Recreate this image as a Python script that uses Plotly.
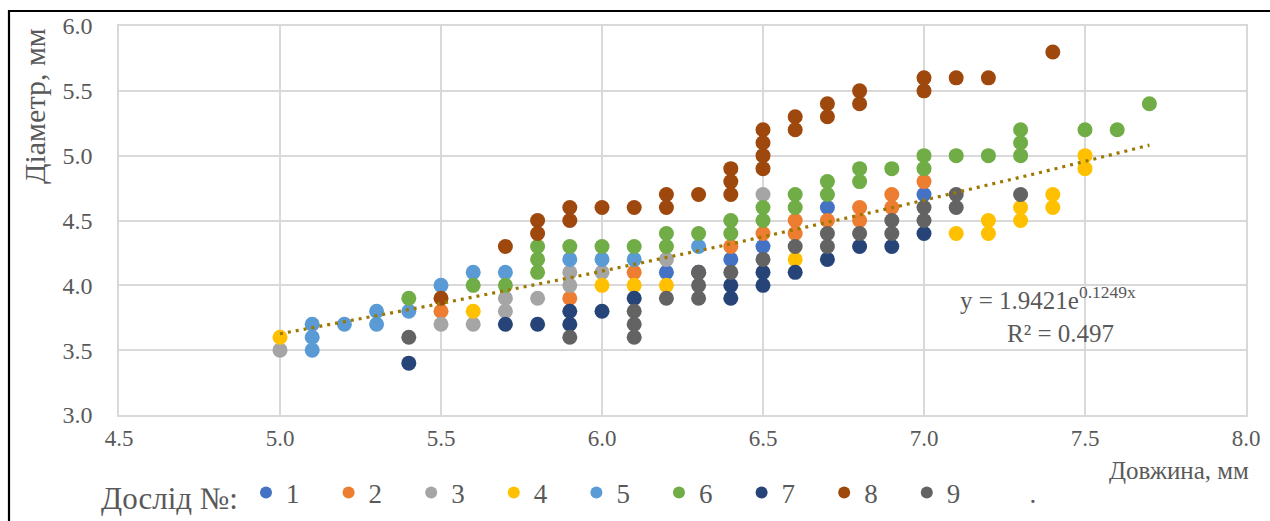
import numpy as np
import plotly.graph_objects as go

# Measurements per experiment (length, diameter in mm)
x1 = [6.2, 6.4, 6.5, 6.7, 7.0]
y1 = [4.1, 4.2, 4.3, 4.6, 4.7]

x2 = [5.5, 5.9, 6.1, 6.4, 6.5, 6.6, 6.6, 6.7, 6.8, 6.8, 6.9, 6.9, 7.0]
y2 = [3.8, 3.9, 4.1, 4.3, 4.4, 4.5, 4.4, 4.5, 4.6, 4.5, 4.7, 4.6, 4.8]

x3 = [5.0, 5.5, 5.6, 5.7, 5.7, 5.8, 5.9, 5.9, 6.0, 6.2, 6.5]
y3 = [3.5, 3.7, 3.7, 3.9, 3.8, 3.9, 4.1, 4.0, 4.1, 4.2, 4.7]

x4 = [5.0, 5.6, 6.0, 6.1, 6.2, 6.6, 7.1, 7.2, 7.2, 7.3, 7.3, 7.4, 7.4, 7.5, 7.5]
y4 = [3.6, 3.8, 4.0, 4.0, 4.0, 4.2, 4.4, 4.5, 4.4, 4.6, 4.5, 4.7, 4.6, 5.0, 4.9]

x5 = [5.1, 5.1, 5.1, 5.2, 5.3, 5.3, 5.4, 5.5, 5.6, 5.7, 5.9, 6.0, 6.1, 6.3]
y5 = [3.7, 3.6, 3.5, 3.7, 3.8, 3.7, 3.8, 4.0, 4.1, 4.1, 4.2, 4.2, 4.2, 4.3]

x6 = [5.4, 5.6, 5.7, 5.8, 5.8, 5.8, 5.9, 6.0, 6.1, 6.2, 6.2, 6.3, 6.4, 6.4,
      6.5, 6.5, 6.6, 6.6, 6.7, 6.7, 6.8, 6.8, 6.9, 7.0, 7.0, 7.1, 7.2,
      7.3, 7.3, 7.3, 7.5, 7.6, 7.7]
y6 = [3.9, 4.0, 4.0, 4.3, 4.2, 4.1, 4.3, 4.3, 4.3, 4.4, 4.3, 4.4, 4.5, 4.4,
      4.6, 4.5, 4.7, 4.6, 4.8, 4.7, 4.9, 4.8, 4.9, 5.0, 4.9, 5.0, 5.0,
      5.2, 5.1, 5.0, 5.2, 5.2, 5.4]

x7 = [5.4, 5.7, 5.8, 5.9, 5.9, 6.0, 6.1, 6.3, 6.4, 6.4, 6.5, 6.5, 6.6, 6.7, 6.8, 6.9, 7.0]
y7 = [3.4, 3.7, 3.7, 3.8, 3.7, 3.8, 3.9, 4.1, 4.0, 3.9, 4.1, 4.0, 4.1, 4.2, 4.3, 4.3, 4.4]

x8 = [5.5, 5.7, 5.8, 5.8, 5.9, 5.9, 6.0, 6.1, 6.2, 6.2, 6.3, 6.4, 6.4, 6.4,
      6.5, 6.5, 6.5, 6.5, 6.6, 6.6, 6.7, 6.7, 6.8, 6.8, 7.0, 7.0, 7.1, 7.2, 7.4]
y8 = [3.9, 4.3, 4.5, 4.4, 4.6, 4.5, 4.6, 4.6, 4.7, 4.6, 4.7, 4.9, 4.8, 4.7,
      5.2, 5.1, 5.0, 4.9, 5.3, 5.2, 5.4, 5.3, 5.5, 5.4, 5.6, 5.5, 5.6, 5.6, 5.8]

x9 = [5.4, 5.9, 6.1, 6.1, 6.1, 6.2, 6.3, 6.3, 6.3, 6.4, 6.5, 6.6, 6.7, 6.7,
      6.8, 6.9, 6.9, 7.0, 7.0, 7.1, 7.1, 7.3]
y9 = [3.6, 3.6, 3.8, 3.7, 3.6, 3.9, 4.1, 4.0, 3.9, 4.1, 4.2, 4.3, 4.4, 4.3,
      4.4, 4.5, 4.4, 4.6, 4.5, 4.7, 4.6, 4.7]

series_names = ["1", "2", "3", "4", "5", "6", "7", "8", "9"]
series_x = [x1, x2, x3, x4, x5, x6, x7, x8, x9]
series_y = [y1, y2, y3, y4, y5, y6, y7, y8, y9]
colors = ["#4472C4", "#ED7D31", "#A5A5A5", "#FFC000", "#5B9BD5",
          "#70AD47", "#264478", "#9E480E", "#636363"]

# Exponential trendline: y = a * exp(b * x)
trend_a = 1.9421
trend_b = 0.1249
trend_r2 = 0.497
trend_x_start, trend_x_end = 5.0, 7.7

x_ticks = [4.5, 5.0, 5.5, 6.0, 6.5, 7.0, 7.5, 8.0]
y_ticks = [3.0, 3.5, 4.0, 4.5, 5.0, 5.5, 6.0]

SERIF = "Liberation Serif, Times New Roman, serif"
TEXT_COLOR = "#595959"
GRID = "#D9D9D9"

# plot-area geometry in pixels
FIG_W, FIG_H = 1270, 521
M_L, M_R, M_T, M_B = 119, 24, 26, 106
PW = FIG_W - M_L - M_R
PH = FIG_H - M_T - M_B


def px_x(px):
    return (px - M_L) / PW


def px_y(py):
    return (FIG_H - M_B - py) / PH


fig = go.Figure()
for name, xs, ys, c in zip(series_names, series_x, series_y, colors):
    fig.add_trace(go.Scatter(
        x=xs, y=ys, mode="markers", name=name,
        marker=dict(size=15, color=c, line=dict(width=0)),
    ))

# empty trailing legend entry
fig.add_trace(go.Scatter(
    x=[None], y=[None], mode="markers", name=".",
    marker=dict(size=10, color="rgba(0,0,0,0)"),
))

tx = np.linspace(trend_x_start, trend_x_end, 80)
ty = trend_a * np.exp(trend_b * tx)
fig.add_trace(go.Scatter(
    x=tx, y=ty, mode="lines", showlegend=False, hoverinfo="skip",
    line=dict(color="#9C7800", width=3.2, dash="3px,5px"),
))

fig.update_layout(
    width=FIG_W, height=FIG_H,
    margin=dict(l=M_L, r=M_R, t=M_T, b=M_B, autoexpand=False),
    paper_bgcolor="white", plot_bgcolor="white",
    font=dict(family=SERIF, color=TEXT_COLOR, size=22),
    xaxis=dict(
        range=[4.5, 8.0], tickvals=x_ticks, tickformat=".1f",
        showgrid=True, gridcolor=GRID, gridwidth=1.5,
        zeroline=False, showline=True, linecolor=GRID, linewidth=1.5, mirror=True,
        ticks="", ticklabelstandoff=2,
        tickfont=dict(family=SERIF, size=23, color=TEXT_COLOR),
    ),
    yaxis=dict(
        range=[3.0, 6.0], tickvals=y_ticks, tickformat=".1f",
        showgrid=True, gridcolor=GRID, gridwidth=1.5,
        zeroline=False, showline=True, linecolor=GRID, linewidth=1.5, mirror=True,
        ticks="", ticklabelstandoff=20,
        tickfont=dict(family=SERIF, size=24, color=TEXT_COLOR),
    ),
    legend=dict(
        orientation="h", x=px_x(99), xanchor="left", y=px_y(494), yanchor="middle",
        title=dict(text="Дослід №:", font=dict(family=SERIF, size=31, color=TEXT_COLOR), side="left"),
        font=dict(family=SERIF, size=27, color=TEXT_COLOR),
        entrywidth=37.6, entrywidthmode="pixels",
        itemsizing="constant", bgcolor="rgba(0,0,0,0)",
    ),
    showlegend=True,
)

annotations = [
    dict(text="Діаметр, мм", xref="paper", yref="paper",
         x=px_x(34), y=px_y(106), textangle=-90,
         showarrow=False, xanchor="center", yanchor="middle",
         font=dict(family=SERIF, size=30, color=TEXT_COLOR)),
    dict(text="Довжина, мм", xref="paper", yref="paper",
         x=px_x(1251), y=px_y(470),
         showarrow=False, xanchor="right", yanchor="middle",
         font=dict(family=SERIF, size=25, color=TEXT_COLOR)),
    dict(text=f"y = {trend_a}e<sup>{trend_b}x</sup>", xref="x", yref="y",
         x=7.385, y=3.9, showarrow=False, xanchor="center", yanchor="middle",
         font=dict(family=SERIF, size=25, color=TEXT_COLOR)),
    dict(text=f"R² = {trend_r2}", xref="x", yref="y",
         x=7.425, y=3.625, showarrow=False, xanchor="center", yanchor="middle",
         font=dict(family=SERIF, size=25, color=TEXT_COLOR)),
]
fig.update_layout(annotations=annotations)

# outer frame
fig.add_shape(type="rect", xref="paper", yref="paper",
              x0=px_x(9), x1=1.2, y0=-0.6, y1=px_y(11),
              line=dict(color="black", width=2.2), fillcolor="rgba(0,0,0,0)",
              layer="above")

fig.write_html("out.html")
